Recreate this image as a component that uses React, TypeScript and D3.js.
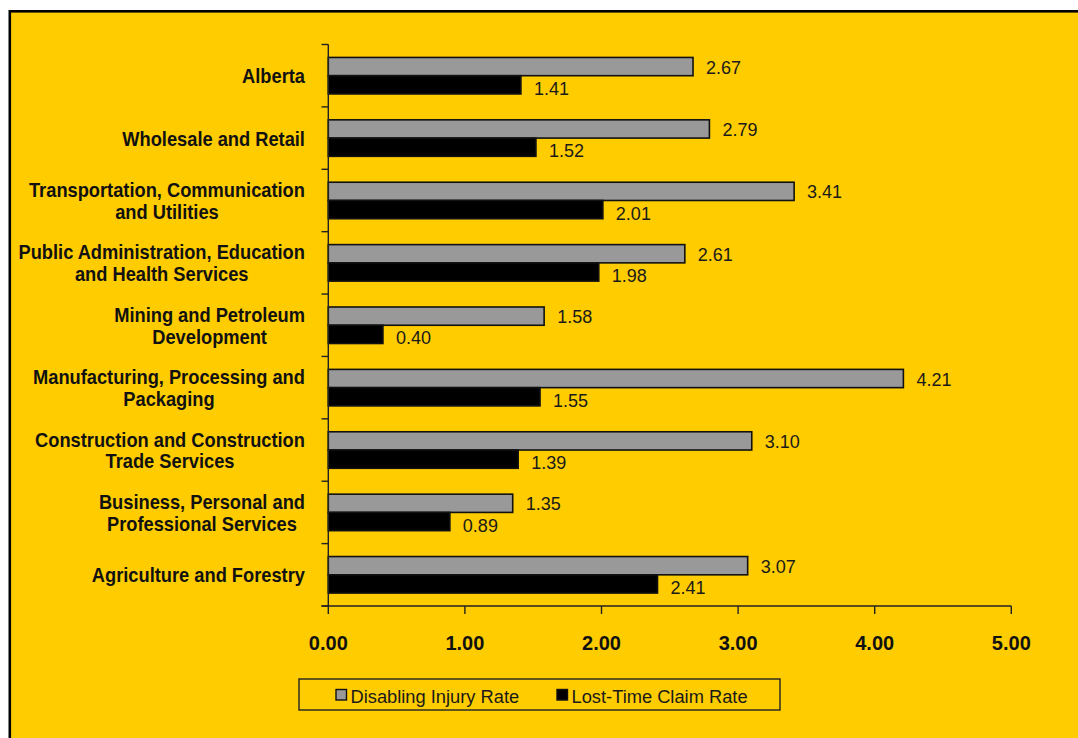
import React, { useEffect, useRef } from "react";
import * as d3 from "d3";

const categories = [
  "Alberta",
  "Wholesale and Retail",
  "Transportation, Communication and Utilities",
  "Public Administration, Education and Health Services",
  "Mining and Petroleum Development",
  "Manufacturing, Processing and Packaging",
  "Construction and Construction Trade Services",
  "Business, Personal and Professional Services",
  "Agriculture and Forestry",
];

const categoryLines = [
  ["Alberta"],
  ["Wholesale and Retail"],
  ["Transportation, Communication", "and Utilities"],
  ["Public Administration, Education", "and Health Services"],
  ["Mining and Petroleum", "Development"],
  ["Manufacturing, Processing and", "Packaging"],
  ["Construction and Construction", "Trade Services"],
  ["Business, Personal and", "Professional Services"],
  ["Agriculture and Forestry"],
];

const disablingInjuryRate = [2.67, 2.79, 3.41, 2.61, 1.58, 4.21, 3.1, 1.35, 3.07];
const lostTimeClaimRate = [1.41, 1.52, 2.01, 1.98, 0.4, 1.55, 1.39, 0.89, 2.41];
const seriesNames = ["Disabling Injury Rate", "Lost-Time Claim Rate"];
const seriesColors = ["#999999", "#000000"];
const xTicks = [0, 1, 2, 3, 4, 5];

const FONT = '"Liberation Sans", Arial, Helvetica, sans-serif';

export default function App() {
  const ref = useRef<SVGSVGElement>(null);

  useEffect(() => {
    const svg = d3.select(ref.current);
    svg.selectAll("*").remove();
    const W = 1078;
    const H = 738;

    svg.append("rect").attr("x", 0).attr("y", 0).attr("width", W).attr("height", H).attr("fill", "#ffffff");
    svg
      .append("rect")
      .attr("x", 9.8)
      .attr("y", 11.3)
      .attr("width", 1200)
      .attr("height", 900)
      .attr("fill", "#FFCC00")
      .attr("stroke", "#000")
      .attr("stroke-width", 2.6);

    const x = d3.scaleLinear().domain([0, 5]).range([328.3, 1011.3]);
    const y = d3
      .scaleBand<string>()
      .domain(categories)
      .range([44.5, 606])
      .paddingInner(0.415)
      .paddingOuter(0.2075);
    const ys = d3.scaleBand<string>().domain(seriesNames).range([0, y.bandwidth()]);
    const fmt = d3.format(".2f");
    const series = [disablingInjuryRate, lostTimeClaimRate];

    // Bars
    series.forEach((vals, si) => {
      const g = svg.append("g");
      g.selectAll("rect")
        .data(vals)
        .join("rect")
        .attr("x", x(0))
        .attr("y", (d, i) => (y(categories[i]) as number) + (ys(seriesNames[si]) as number))
        .attr("width", (d) => x(d) - x(0))
        .attr("height", ys.bandwidth())
        .attr("fill", seriesColors[si])
        .attr("stroke", "#111")
        .attr("stroke-width", 1.6);
    });

    // Data labels
    series.forEach((vals, si) => {
      const g = svg.append("g");
      g.selectAll("text")
        .data(vals)
        .join("text")
        .attr("x", (d) => x(d) + 13)
        .attr(
          "y",
          (d, i) =>
            (y(categories[i]) as number) +
            (ys(seriesNames[si]) as number) +
            ys.bandwidth() / 2 +
            (si === 0 ? 1 : 4)
        )
        .attr("dominant-baseline", "central")
        .attr("font-family", FONT)
        .attr("font-size", 18)
        .attr("fill", "#1a1a1a")
        .text((d) => fmt(d));
    });

    // Y axis
    const step = y.step();
    const outer = (step - y.bandwidth()) / 2;
    svg
      .append("line")
      .attr("x1", x(0))
      .attr("x2", x(0))
      .attr("y1", 44.5)
      .attr("y2", 606)
      .attr("stroke", "#222")
      .attr("stroke-width", 1.4);
    const boundaries = categories.map((c) => (y(c) as number) - outer).concat([606]);
    svg
      .append("g")
      .selectAll("line")
      .data(boundaries)
      .join("line")
      .attr("x1", x(0) - 6.8)
      .attr("x2", x(0))
      .attr("y1", (d) => d)
      .attr("y2", (d) => d)
      .attr("stroke", "#222")
      .attr("stroke-width", 1.4);

    // Category labels
    const sx = 0.87;
    const rightEdge = 305;
    categoryLines.forEach((lines, i) => {
      const cy = (y(categories[i]) as number) + y.bandwidth() / 2;
      const g = svg.append("g");
      const t = g
        .append("text")
        .attr("font-family", FONT)
        .attr("font-weight", "bold")
        .attr("font-size", 21)
        .attr("fill", "#111")
        .attr("text-anchor", "middle");
      const offsets = lines.length === 1 ? [0] : [-11, 11];
      const tspans = lines.map((ln, li) =>
        t
          .append("tspan")
          .attr("x", 0)
          .attr("y", offsets[li])
          .attr("dominant-baseline", "central")
          .text(ln)
      );
      let maxW = 0;
      tspans.forEach((ts) => {
        const n = ts.node() as SVGTSpanElement;
        const w = n.getComputedTextLength ? n.getComputedTextLength() : 0;
        if (w > maxW) maxW = w;
      });
      const cx = rightEdge - (maxW * sx) / 2;
      g.attr("transform", `translate(${cx},${cy}) scale(${sx},1)`);
    });

    // X axis
    svg
      .append("line")
      .attr("x1", x(0) - 6.8)
      .attr("x2", x(5))
      .attr("y1", 606)
      .attr("y2", 606)
      .attr("stroke", "#222")
      .attr("stroke-width", 1.4);
    const xt = svg.append("g");
    xt.selectAll("line")
      .data(xTicks)
      .join("line")
      .attr("x1", (d) => x(d))
      .attr("x2", (d) => x(d))
      .attr("y1", 606)
      .attr("y2", 614)
      .attr("stroke", "#222")
      .attr("stroke-width", 1.4);
    xt.selectAll("text")
      .data(xTicks)
      .join("text")
      .attr("x", (d) => x(d))
      .attr("y", 643)
      .attr("text-anchor", "middle")
      .attr("dominant-baseline", "central")
      .attr("font-family", FONT)
      .attr("font-weight", "bold")
      .attr("font-size", 20)
      .attr("fill", "#111")
      .text((d) => fmt(d));

    // Legend
    const lg = svg.append("g");
    lg.append("rect")
      .attr("x", 299)
      .attr("y", 679)
      .attr("width", 481)
      .attr("height", 31)
      .attr("fill", "none")
      .attr("stroke", "#222")
      .attr("stroke-width", 1.4);
    const legendX = [336, 557];
    seriesNames.forEach((name, si) => {
      lg.append("rect")
        .attr("x", legendX[si])
        .attr("y", 689.5)
        .attr("width", 10.5)
        .attr("height", 10.5)
        .attr("fill", seriesColors[si])
        .attr("stroke", "#111")
        .attr("stroke-width", 1.4);
      lg.append("text")
        .attr("x", legendX[si] + 14.5)
        .attr("y", 696)
        .attr("dominant-baseline", "central")
        .attr("font-family", FONT)
        .attr("font-size", 18.3)
        .attr("fill", "#1a1a1a")
        .text(name);
    });
  }, []);

  return (
    <svg
      ref={ref}
      width={1078}
      height={738}
      style={{ position: "absolute", left: 0, top: 0, display: "block" }}
    />
  );
}
